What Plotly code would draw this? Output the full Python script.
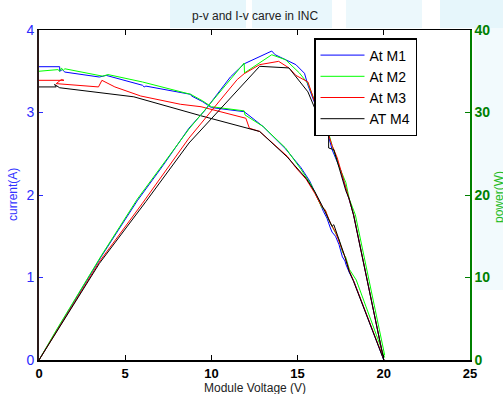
import plotly.graph_objects as go

# ---------------- data ----------------
series_names = ["At M1", "At M2", "At M3", "AT M4"]
series_colors = ["#0000ff", "#00ff00", "#ff0000", "#000000"]

# I-V curves (left axis, current in A)
iv_m1_v = [0, 1.2, 1.2, 1.35, 1.5, 3.5, 3.9, 6.0, 6.1, 6.2, 8.8, 8.85, 9.5, 10.0, 11.9, 13.0, 14.3, 15.2, 15.7, 16.0, 16.3, 16.5, 16.7, 16.9, 17.0, 17.2, 17.4, 17.6, 17.75, 17.8, 18.0, 18.25, 20.0]
iv_m1_i = [3.555, 3.555, 3.50, 3.52, 3.49, 3.43, 3.45, 3.33, 3.31, 3.32, 3.22, 3.20, 3.13, 3.06, 3.01, 2.83, 2.56, 2.33, 2.17, 2.04, 1.90, 1.80, 1.72, 1.60, 1.55, 1.50, 1.40, 1.25, 1.20, 1.16, 1.06, 0.96, 0.0]

iv_m2_v = [0, 1.1, 1.2, 1.3, 1.4, 1.5, 3.7, 4.0, 6.0, 8.8, 9.5, 10.0, 11.9, 11.95, 13.0, 14.3, 15.2, 15.8, 16.4, 16.6, 16.8, 17.0, 17.3, 17.4, 17.6, 17.8, 18.0, 18.4, 20.05]
iv_m2_i = [3.50, 3.52, 3.50, 3.54, 3.51, 3.53, 3.44, 3.46, 3.37, 3.22, 3.14, 3.07, 3.02, 2.97, 2.83, 2.57, 2.31, 2.12, 1.85, 1.82, 1.70, 1.62, 1.50, 1.46, 1.31, 1.24, 1.10, 0.97, 0.03]

iv_m3_v = [0, 1.45, 1.3, 1.0, 3.45, 3.65, 4.4, 5.9, 8.2, 9.4, 12.0, 12.2, 12.8, 14.4, 14.9, 15.5, 16.0, 16.4, 16.6, 16.9, 17.2, 17.5, 17.7, 17.8, 18.0, 18.25, 20.0]
iv_m3_i = [3.39, 3.39, 3.40, 3.35, 3.31, 3.39, 3.31, 3.20, 3.10, 3.07, 2.93, 2.81, 2.77, 2.47, 2.33, 2.19, 2.02, 1.86, 1.82, 1.66, 1.55, 1.38, 1.28, 1.22, 1.08, 0.96, 0.01]

iv_m4_v = [0, 1.0, 0.9, 1.05, 1.2, 5.5, 9.4, 12.8, 14.4, 15.5, 16.0, 16.4, 16.7, 17.0, 17.1, 17.3, 17.5, 17.7, 18.0, 18.25, 20.0]
iv_m4_i = [3.31, 3.31, 3.34, 3.32, 3.30, 3.19, 2.96, 2.77, 2.46, 2.20, 2.04, 1.88, 1.74, 1.62, 1.64, 1.52, 1.40, 1.28, 1.07, 0.95, 0.0]

# P-V curves (right axis, power in W)
pv_m1_v = [0, 0.9, 1.0, 3.6, 5.7, 7.2, 8.7, 9.6, 11.1, 11.9, 13.5, 13.7, 14.3, 14.9, 15.4, 15.6, 16.2, 16.8, 17.0, 17.5, 17.8, 18.1, 18.25, 20.0]
pv_m1_p = [0, 3.3, 3.5, 12.5, 19.3, 23.6, 28.1, 30.2, 34.3, 35.9, 37.45, 37.0, 36.4, 35.8, 34.75, 33.3, 30.0, 27.1, 25.5, 23.0, 20.8, 18.8, 17.6, 0.0]

pv_m2_v = [0, 1.0, 3.6, 5.7, 8.7, 11.9, 11.92, 13.5, 14.3, 15.1, 15.6, 16.2, 16.8, 17.0, 17.4, 17.6, 17.8, 18.0, 18.35, 20.05]
pv_m2_p = [0, 3.6, 12.6, 19.5, 28.0, 36.0, 34.8, 37.0, 36.4, 34.8, 33.5, 30.3, 27.5, 26.0, 23.5, 22.6, 21.5, 19.5, 17.6, 0.6]

pv_m3_v = [0, 1.0, 3.5, 6.0, 8.7, 11.5, 11.9, 12.8, 13.9, 14.5, 14.9, 15.6, 16.2, 16.8, 17.0, 17.3, 17.5, 17.8, 18.0, 18.25, 20.0]
pv_m3_p = [0, 3.4, 11.9, 19.0, 26.9, 34.0, 34.7, 35.8, 36.2, 35.4, 34.5, 33.7, 30.0, 27.3, 26.0, 24.5, 23.0, 20.8, 19.3, 17.6, 0.0]

pv_m4_v = [0, 1.0, 3.5, 6.2, 8.7, 12.8, 14.5, 15.6, 16.2, 16.8, 16.8, 17.1, 17.3, 17.5, 17.8, 18.0, 18.25, 20.0]
pv_m4_p = [0, 3.3, 11.7, 19.2, 26.3, 35.6, 35.4, 32.5, 29.5, 27.3, 25.7, 25.5, 24.0, 22.8, 20.5, 19.5, 17.5, 0.0]

x_ticks = [0, 5, 10, 15, 20, 25]
left_ticks = [0, 1, 2, 3, 4]
right_ticks = [0, 10, 20, 30, 40]

iv_v = [iv_m1_v, iv_m2_v, iv_m3_v, iv_m4_v]
iv_i = [iv_m1_i, iv_m2_i, iv_m3_i, iv_m4_i]
pv_v = [pv_m1_v, pv_m2_v, pv_m3_v, pv_m4_v]
pv_p = [pv_m1_p, pv_m2_p, pv_m3_p, pv_m4_p]

FONT = "Liberation Sans, Arial, sans-serif"

fig = go.Figure()
for k in range(4):
    fig.add_trace(go.Scatter(x=iv_v[k], y=iv_i[k], mode="lines", name=series_names[k],
                             line=dict(color=series_colors[k], width=1),
                             legendgroup=series_names[k], xaxis="x", yaxis="y"))
for k in range(4):
    fig.add_trace(go.Scatter(x=pv_v[k], y=pv_p[k], mode="lines", name=series_names[k],
                             line=dict(color=series_colors[k], width=1),
                             legendgroup=series_names[k], showlegend=False,
                             xaxis="x", yaxis="y2"))
# helper trace so the top (mirror) axis is drawn
fig.add_trace(go.Scatter(x=[None], y=[None], xaxis="x2", yaxis="y", showlegend=False,
                         hoverinfo="skip"))

# light-blue watermark of the original background
def px2x(px):
    return (px - 39) / 431.0

def py2y(py):
    return (360 - py) / 330.0

bg_rects = [
    (170, 0, 246, 28, "#e6f6fb"),
    (252, 0, 332, 28, "#e9f7fc"),
    (346, 0, 422, 28, "#ecf8fc"),
    (440, 0, 503, 28, "#e6f6fb"),
    (474, 28, 503, 290, "#f2fafd"),
]
shapes = []
for (x0, y0, x1, y1, c) in bg_rects:
    shapes.append(dict(type="rect", xref="paper", yref="paper",
                       x0=px2x(x0), x1=px2x(x1), y0=py2y(y1), y1=py2y(y0),
                       fillcolor=c, line=dict(width=0), layer="below"))

fig.update_layout(
    width=503, height=394,
    margin=dict(l=39, r=33, t=30, b=34, autoexpand=False),
    paper_bgcolor="white", plot_bgcolor="white",
    font=dict(family=FONT, size=12, color="black"),
    showlegend=True,
    shapes=shapes,
    xaxis=dict(range=[0, 25], tickvals=x_ticks, ticks="inside", ticklen=5,
               tickcolor="black", showline=True, linecolor="black", linewidth=2,
               showgrid=False, zeroline=False,
               tickfont=dict(family=FONT, size=13, color="black", weight="bold"),
               automargin=False),
    xaxis2=dict(range=[0, 25], overlaying="x", side="top", matches="x",
                tickvals=x_ticks, ticks="inside", ticklen=5, tickcolor="black",
                showticklabels=False, showline=True, linecolor="black", linewidth=1,
                showgrid=False, zeroline=False, automargin=False),
    yaxis=dict(range=[0, 4], tickvals=left_ticks, ticks="inside", ticklen=4,
               tickcolor="#2a2aff", showline=True, linecolor="#2a1a1a", linewidth=2,
               showgrid=False, zeroline=False,
               tickfont=dict(family=FONT, size=14, color="#2a2aff"),
               automargin=False),
    yaxis2=dict(range=[0, 40], tickvals=right_ticks, overlaying="y", side="right",
                ticks="inside", ticklen=5, tickcolor="#008000", showline=True,
                linecolor="#008000", linewidth=1.5, showgrid=False, zeroline=False,
                tickfont=dict(family=FONT, size=14, color="#008000", weight="bold"),
                automargin=False),
    legend=dict(x=px2x(314), y=py2y(38), xanchor="left", yanchor="top",
                bgcolor="white", bordercolor="black", borderwidth=1.5,
                font=dict(family=FONT, size=14, color="black"),
                itemwidth=44, tracegroupgap=0),
    annotations=[
        dict(text="p-v and I-v carve in INC", xref="paper", yref="paper",
             x=0.5, y=py2y(16), xanchor="center", yanchor="middle", showarrow=False,
             font=dict(family=FONT, size=12, color="#222")),
        dict(text="Module Voltage (V)", xref="paper", yref="paper",
             x=0.5, y=py2y(388), xanchor="center", yanchor="middle", showarrow=False,
             font=dict(family=FONT, size=12, color="#222")),
        dict(text="current(A)", xref="paper", yref="paper", x=px2x(13), y=0.5,
             xanchor="center", yanchor="middle", textangle=-90, showarrow=False,
             font=dict(family=FONT, size=12, color="#3333ff")),
        dict(text="power(W)", xref="paper", yref="paper", x=px2x(499), y=py2y(197),
             xanchor="center", yanchor="middle", textangle=-90, showarrow=False,
             font=dict(family=FONT, size=12, color="#22bb22")),
    ],
)

fig.write_html("out.html")
